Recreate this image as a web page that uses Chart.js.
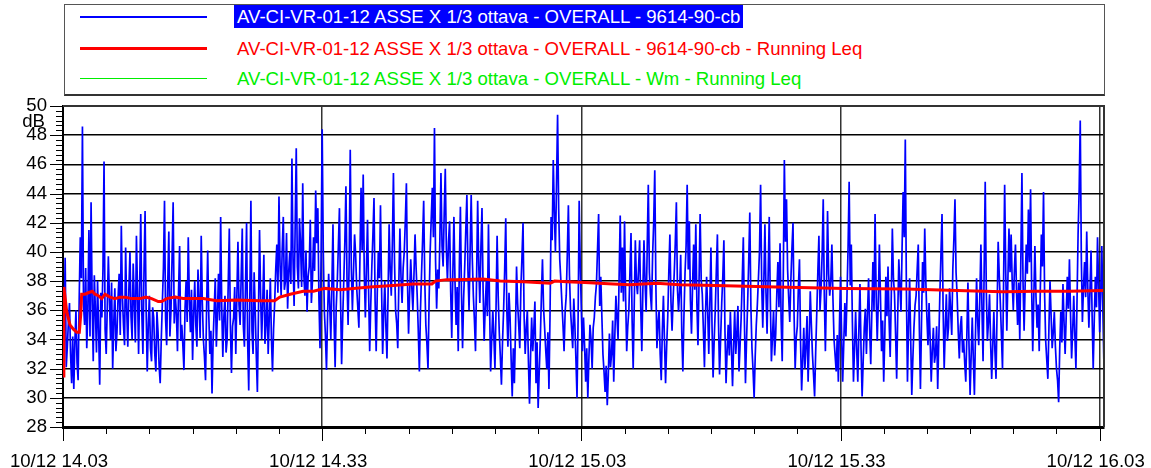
<!DOCTYPE html>
<html lang="it">
<head>
    <meta charset="UTF-8">
    <title>Running Leq - AV-CI-VR-01-12</title>
    <script src="https://cdn.jsdelivr.net/npm/chart.js"></script>
    <style>
        html, body {
            margin: 0;
            padding: 0;
            background: #fff;
        }
        .wrap {
            position: relative;
            width: 1151px;
            height: 468px;
            overflow: hidden;
            font-family: "Liberation Sans", Arial, sans-serif;
        }
        #leqChart {
            position: absolute;
            left: 0;
            top: 0;
        }
        .legend-box {
            position: absolute;
            left: 64px;
            top: 4px;
            width: 1041px;
            height: 92px;
            box-sizing: border-box;
            border: 1px solid #555;
            border-bottom: 2px solid #333;
            background: #fff;
        }
        .legend-line {
            position: absolute;
            left: 80px;
            width: 127px;
        }
        .legend-text {
            position: absolute;
            left: 234px;
            height: 23px;
            line-height: 23px;
            padding: 0 3px;
            font-size: 18.6px;
            white-space: nowrap;
        }
    </style>
</head>
<body>
<div class="wrap" id="wrap">
    <canvas id="leqChart" width="1151" height="468"></canvas>
    <div class="legend-box"></div>
</div>
<script>
    // Time axis: minutes after 14:03, one sample every 7.5 s
    var sampleStep = 0.125;
    var xTickLabels = ['10/12 14.03', '10/12 14.33', '10/12 15.03', '10/12 15.33', '10/12 16.03'];
    var yMin = 28;
    var yMax = 50;

    var seriesNames = [
        'AV-CI-VR-01-12 ASSE X 1/3 ottava - OVERALL - 9614-90-cb',
        'AV-CI-VR-01-12 ASSE X 1/3 ottava - OVERALL - 9614-90-cb - Running Leq',
        'AV-CI-VR-01-12 ASSE X 1/3 ottava - OVERALL - Wm - Running Leq'
    ];

    // OVERALL level (dB), one row = 5 minutes
    var overallLevels = [
        31.4, 34.8, 39.6, 32.1, 33.5, 35.2, 36.5, 33.0, 31.0, 34.2, 30.6, 33.8, 36.0, 32.4, 31.2, 36.8, 41.0, 38.2, 48.6, 36.4,
        35.0, 38.9, 33.4, 36.0, 41.5, 34.2, 43.4, 36.6, 32.5, 38.4, 36.0, 33.1, 38.0, 34.6, 30.9, 37.2, 35.5, 38.8, 46.2, 34.7,
        33.0, 36.2, 39.7, 36.8, 34.0, 37.9, 32.0, 35.1, 37.5, 33.2, 34.5, 36.9, 38.5, 34.3, 41.8, 37.0, 35.0, 33.6, 40.3, 36.1,
        33.5, 37.4, 40.0, 35.6, 34.0, 39.2, 36.5, 33.8, 41.1, 37.3, 33.0, 37.7, 42.6, 35.8, 33.0, 38.6, 42.8, 36.0, 31.8, 35.0,
        37.0, 33.4, 32.5, 36.2, 35.5, 33.0, 31.8, 35.9, 34.5, 32.2, 31.0, 34.0, 36.5, 38.9, 43.5, 35.4, 33.6, 37.8, 41.4, 34.2,
        36.0, 39.6, 43.4, 35.1, 37.0, 35.8, 33.2, 37.3, 40.4, 33.9, 35.0, 33.6, 31.9, 36.1, 38.0, 35.2, 41.0, 36.8, 34.5, 37.4,
        32.6, 35.7, 38.0, 35.0, 33.5, 38.8, 36.5, 34.1, 41.1, 36.6, 34.0, 32.8, 31.2, 36.3, 40.1, 35.7, 33.0, 34.6, 30.3, 33.9,
        36.0, 38.2, 33.5, 35.8, 38.5, 35.3, 42.4, 36.2, 32.8, 35.6, 37.0, 33.1, 34.0, 37.8, 41.6, 35.0, 31.7, 34.9, 35.5, 37.6,
        33.0, 36.9, 40.7, 36.4, 35.0, 38.3, 41.6, 34.9, 33.5, 37.6, 42.0, 33.8, 30.5, 36.7, 43.5, 34.6, 33.0, 38.6, 36.0, 32.9,
        30.4, 35.8, 41.5, 37.0, 34.0, 36.6, 39.8, 33.7, 35.0, 37.4, 33.0, 35.5, 38.2, 34.1, 31.8, 34.7, 36.5, 38.8, 40.5, 37.2,
        43.8, 39.1, 37.0, 40.2, 42.4, 37.4, 38.0, 41.3, 36.1, 38.6, 40.0, 37.8, 46.4, 39.5, 36.3, 41.8, 47.1, 39.0, 37.5, 42.3,
        40.5, 37.6, 44.7, 38.4, 37.0, 40.1, 35.9, 38.3, 39.0, 42.2, 36.5, 38.0, 41.0, 38.7, 44.2, 40.6, 43.0, 36.8, 33.4, 39.8,
        48.4, 40.2, 36.0, 34.3, 31.9, 35.6, 38.5, 36.4, 34.0, 37.7, 41.9, 35.3, 32.1, 36.2, 38.0, 40.4, 43.0, 36.9, 32.3, 35.4,
        38.0, 40.7, 44.5, 38.1, 35.0, 39.4, 47.0, 38.9, 36.0, 38.6, 41.2, 39.8, 37.5, 36.2, 34.8, 39.7, 44.4, 40.1, 45.3, 38.5,
        35.5, 39.0, 42.2, 37.3, 33.2, 36.4, 39.0, 41.2, 43.7, 36.7, 33.2, 37.1, 40.0, 38.2, 43.2, 37.6, 33.0, 35.7, 38.0, 34.9,
        32.7, 37.0, 41.9, 38.8, 37.0, 40.6, 45.4, 39.3, 36.0, 35.1, 33.4, 37.9, 41.6, 38.3, 36.5, 38.9, 40.0, 42.1, 44.7, 38.0,
        34.4, 37.2, 39.5, 37.6, 36.0, 38.4, 41.2, 38.9, 37.0, 34.6, 31.8, 35.9, 38.5, 40.8, 43.5, 38.1, 35.0, 33.7, 32.0, 36.6,
        40.0, 42.3, 44.4, 41.0, 48.5, 39.4, 36.1, 38.8, 37.5, 40.9, 45.4, 40.4, 39.0, 42.6, 45.7, 40.2, 38.0, 40.7, 42.1, 37.3,
        34.1, 38.5, 42.4, 38.0, 35.0, 37.6, 33.2, 38.9, 43.1, 37.2, 33.4, 36.8, 39.0, 41.5, 43.9, 38.7, 36.0, 40.1, 43.9, 39.6,
        37.0, 35.3, 33.2, 38.2, 43.5, 39.1, 36.5, 40.3, 43.0, 37.5, 33.9, 36.2, 38.0, 35.6, 41.9, 36.4, 31.8, 34.0, 36.0, 34.2,
        32.0, 36.1, 41.1, 37.0, 34.5, 32.8, 30.9, 33.8, 36.0, 38.7, 42.3, 36.0, 33.5, 37.2, 35.5, 32.6, 30.1, 33.4, 31.0, 34.6,
        39.0, 36.5, 35.0, 33.4, 37.5, 39.6, 42.0, 35.6, 33.0, 34.8, 36.0, 32.5, 29.6, 32.9, 35.5, 33.2, 34.7, 36.6, 31.0, 33.8,
        29.3, 31.8, 34.0, 36.9, 39.5, 36.2, 34.8, 33.3, 32.0, 34.5, 30.6, 35.7, 42.4, 40.8, 46.3, 42.7, 40.0, 44.6, 49.4, 43.0,
        39.5, 38.1, 36.5, 35.0, 33.2, 35.9, 37.0, 39.8, 43.2, 38.4, 36.0, 34.7, 33.4, 36.8, 35.0, 32.6, 30.0, 35.4, 43.5, 39.0,
        36.0, 33.2, 35.5, 33.6, 31.1, 33.4, 30.0, 32.7, 35.0, 34.0, 32.0, 34.8, 35.5, 36.9, 37.8, 40.2, 42.6, 36.3, 38.3, 35.6,
        33.0, 31.8, 30.4, 32.2, 29.5, 31.6, 34.4, 32.1, 33.0, 35.3, 31.1, 34.2, 37.0, 35.5, 34.0, 38.4, 42.5, 37.2, 40.3, 36.6,
        42.1, 36.9, 33.2, 34.9, 36.0, 38.6, 41.3, 35.4, 32.0, 36.4, 40.8, 38.0, 37.1, 38.9, 40.8, 36.2, 33.2, 37.5, 40.8, 37.9,
        35.9, 40.3, 44.6, 38.6, 37.1, 36.0, 39.8, 42.0, 45.6, 37.8, 33.4, 35.1, 36.0, 33.0, 31.2, 34.6, 37.0, 33.9, 31.0, 33.5,
        35.5, 38.6, 41.2, 36.6, 34.6, 36.8, 38.5, 40.6, 43.4, 37.5, 35.9, 37.3, 39.8, 34.5, 31.8, 35.6, 38.5, 40.4, 44.6, 38.8,
        42.1, 36.7, 34.4, 37.7, 40.5, 37.4, 41.9, 36.5, 33.6, 38.0, 42.6, 38.1, 37.1, 34.7, 32.1, 35.8, 38.3, 36.0, 33.0, 36.4,
        40.3, 35.0, 31.4, 33.9, 36.0, 38.7, 41.2, 35.2, 31.6, 34.1, 36.5, 38.3, 40.8, 34.6, 31.0, 33.2, 35.0, 32.9, 35.9, 33.4,
        30.8, 33.5, 36.0, 33.0, 34.4, 36.3, 31.8, 33.6, 35.5, 38.1, 41.0, 35.3, 31.0, 34.0, 36.5, 39.4, 42.7, 36.3, 33.4, 31.9,
        30.0, 32.8, 35.0, 36.4, 38.2, 40.1, 44.6, 37.9, 34.8, 38.0, 41.9, 37.2, 34.4, 38.5, 42.4, 36.7, 32.5, 34.2, 36.0, 32.9,
        34.4, 37.1, 39.3, 36.2, 40.6, 35.4, 32.5, 38.3, 46.3, 40.7, 43.6, 38.8, 36.9, 35.2, 38.0, 40.2, 42.0, 35.7, 32.0, 34.1,
        34.9, 37.6, 39.5, 33.8, 30.5, 32.6, 34.8, 32.0, 33.5, 35.6, 31.1, 34.0, 37.3, 35.0, 33.0, 31.6, 30.1, 33.1, 35.8, 38.6,
        41.1, 36.0, 37.5, 39.9, 43.6, 37.0, 33.2, 37.4, 42.8, 38.5, 37.0, 38.0, 40.5, 36.8, 34.0, 32.9, 31.8, 34.3, 31.1, 34.9,
        38.3, 34.4, 31.1, 33.7, 36.5, 34.2, 37.0, 40.3, 44.8, 37.7, 40.5, 35.2, 31.1, 33.4, 35.9, 33.3, 31.1, 34.6, 37.8, 33.4,
        30.1, 32.5, 34.8, 36.1, 33.0, 35.8, 38.2, 34.7, 32.3, 35.9, 39.3, 36.0, 42.6, 37.1, 33.9, 36.6, 40.5, 36.9, 33.2, 35.3,
        31.1, 34.2, 38.3, 35.6, 39.0, 35.3, 32.8, 36.9, 41.6, 38.2, 37.1, 34.4, 31.3, 35.7, 39.5, 37.6, 35.9, 40.2, 44.1, 41.0,
        47.7, 37.5, 31.1, 34.9, 38.2, 34.0, 30.2, 32.7, 34.8, 36.3, 37.0, 38.8, 40.5, 34.8, 30.6, 35.1, 39.3, 37.2, 41.6, 38.0,
        35.5, 33.6, 36.5, 34.0, 31.1, 33.3, 34.8, 32.4, 33.0, 34.9, 30.6, 33.9, 37.1, 39.8, 42.6, 36.2, 32.0, 34.7, 37.1, 33.9,
        34.8, 37.5, 36.0, 34.3, 38.8, 40.9, 43.6, 38.6, 37.0, 34.6, 32.7, 34.9, 35.6, 33.1, 34.0, 32.4, 31.1, 34.3, 37.9, 33.6,
        30.2, 32.9, 35.5, 32.6, 30.2, 34.4, 38.2, 35.3, 33.6, 36.9, 40.5, 36.1, 32.5, 38.6, 44.8, 37.4, 33.9, 35.2, 37.1, 33.8,
        31.3, 33.6, 35.9, 33.2, 31.3, 36.0, 40.7, 38.4, 36.5, 34.3, 32.0, 37.8, 44.6, 38.7, 34.6, 38.1, 41.6, 38.6, 41.2, 37.9,
        36.0, 38.7, 40.5, 37.3, 35.0, 37.9, 34.0, 39.5, 45.4, 38.0, 34.6, 37.8, 40.5, 38.5, 42.9, 39.3, 44.3, 37.5, 33.2, 36.9,
        40.4, 37.0, 34.8, 36.4, 33.2, 37.3, 41.2, 39.0, 44.1, 37.1, 33.9, 32.6, 31.3, 34.8, 38.0, 35.7, 33.4, 34.5, 35.9, 33.5,
        32.0, 31.2, 29.7, 33.4, 35.9, 33.8, 37.8, 35.2, 33.0, 35.6, 38.3, 36.1, 39.5, 35.8, 32.7, 34.6, 37.0, 34.3, 32.0, 36.6,
        41.2, 44.3, 49.0, 39.6, 35.2, 37.6, 39.3, 36.9, 41.4, 37.5, 34.8, 37.3, 40.1, 35.6, 32.0, 35.4, 38.3, 36.2, 41.0, 37.7,
        34.5, 37.3, 40.4, 35.8, 32.0
    ];

    // Running Leq (minutes after 14:03, dB)
    var leqTimes = [
        0, 0.1, 0.43, 0.81, 1.2, 1.58, 1.89, 2.05, 2.16, 2.55, 2.93, 3.4, 3.7, 4.09, 4.48, 4.86, 5.44, 6.02, 6.6, 7.18,
        7.95, 8.91, 9.6, 10.26, 11.03, 11.42, 12.0, 12.96, 13.92, 16.24, 17.78, 20.1, 22.8, 24.5, 25.1, 26.3, 27.8, 29.0, 30.3, 32.1,
        33.6, 35.5, 38.2, 40.5, 42.7, 43.1, 44.4, 45.4, 48.6, 50.6, 53.3, 56.4, 56.9, 58.3, 60.4, 63.7, 65.6, 68.7, 71.4, 75.5,
        82.6, 90.5, 97.6, 105.5, 108.8, 112.7, 116.5, 120.5
    ];
    var leqLevels = [
        31.5, 37.6, 35.9, 35.0, 34.7, 34.5, 34.5, 35.7, 37.1, 37.1, 37.2, 37.3, 37.1, 37.0, 36.8, 37.1, 36.9, 36.8, 36.9, 36.9,
        36.8, 36.8, 36.9, 36.8, 36.6, 36.6, 36.8, 36.9, 36.8, 36.8, 36.65, 36.7, 36.65, 36.65, 36.9, 37.1, 37.3, 37.3, 37.5, 37.4,
        37.5, 37.6, 37.7, 37.8, 37.8, 38.0, 38.1, 38.1, 38.15, 38.0, 37.95, 37.85, 38.0, 37.95, 37.9, 37.8, 37.75, 37.85, 37.75, 37.7,
        37.6, 37.5, 37.45, 37.32, 37.27, 37.3, 37.3, 37.35
    ];
    var wmLeqLevels = [];

    var overallPoints = overallLevels.map(function (v, i) {
        return { x: i * sampleStep, y: v };
    });
    var leqPoints = leqLevels.map(function (v, i) {
        return { x: leqTimes[i], y: v };
    });

    var fontFamily = '"Liberation Sans", Arial, sans-serif';
    Chart.defaults.font.family = fontFamily;
    Chart.defaults.font.size = 18.6;
    Chart.defaults.color = '#000';

    function isMajor(v) {
        return Math.abs(v % 30) < 1e-6;
    }

    // tick marks, top/right frame and the dB unit
    var axisDecor = {
        id: 'axisDecor',
        afterDraw: function (chart) {
            var ctx = chart.ctx;
            var a = chart.chartArea;
            var x = chart.scales.x;
            var y = chart.scales.y;
            ctx.save();
            ctx.strokeStyle = '#000';
            ctx.lineWidth = 1;
            for (var k = 0; k <= (yMax - yMin) * 3; k++) {
                var py = Math.round(y.getPixelForValue(yMin + k / 3)) + 0.5;
                var ylen = k % 6 === 0 ? 13 : 7;
                ctx.beginPath();
                ctx.moveTo(a.left - ylen, py);
                ctx.lineTo(a.left, py);
                ctx.stroke();
            }
            for (var m = 0; m <= 120; m += 5) {
                var px = Math.round(x.getPixelForValue(m)) + 0.5;
                var xlen = isMajor(m) ? 14 : 7;
                ctx.beginPath();
                ctx.moveTo(px, a.bottom);
                ctx.lineTo(px, a.bottom + xlen);
                ctx.stroke();
            }
            ctx.strokeStyle = '#333';
            ctx.lineWidth = 2;
            ctx.beginPath();
            ctx.moveTo(a.left, a.top);
            ctx.lineTo(a.right, a.top);
            ctx.lineTo(a.right, a.bottom);
            ctx.stroke();

            ctx.fillStyle = '#000';
            ctx.font = '18.6px ' + fontFamily;
            ctx.textAlign = 'right';
            ctx.textBaseline = 'middle';
            ctx.fillText('dB', a.left - 18, y.getPixelForValue(48.9));
            ctx.restore();
        }
    };

    var ctx = document.getElementById('leqChart').getContext('2d');
    var leqChart = new Chart(ctx, {
        type: 'line',
        data: {
            datasets: [{
                label: seriesNames[0],
                data: overallPoints,
                borderColor: '#0000ff',
                borderWidth: 1.7,
                pointRadius: 0,
                tension: 0,
                order: 2
            }, {
                label: seriesNames[1],
                data: leqPoints,
                borderColor: '#ff0000',
                borderWidth: 3,
                pointRadius: 0,
                tension: 0,
                order: 1
            }, {
                label: seriesNames[2],
                data: wmLeqLevels,
                borderColor: '#00ee00',
                borderWidth: 1.5,
                pointRadius: 0,
                order: 0
            }]
        },
        options: {
            responsive: false,
            animation: false,
            devicePixelRatio: 1,
            layout: {
                padding: { top: 106, right: 47, left: 0, bottom: 0 }
            },
            plugins: {
                legend: { display: false },
                tooltip: { enabled: false }
            },
            scales: {
                x: {
                    type: 'linear',
                    min: 0,
                    max: 120.5,
                    afterFit: function (scale) {
                        scale.height = 41;
                        scale.paddingLeft = 0;
                        scale.paddingRight = 0;
                    },
                    ticks: {
                        stepSize: 5,
                        includeBounds: false,
                        autoSkip: false,
                        maxRotation: 0,
                        padding: 24,
                        labelOffset: -4,
                        callback: function (v) {
                            return isMajor(v) ? xTickLabels[Math.round(v / 30)] : '';
                        }
                    },
                    grid: {
                        drawTicks: false,
                        lineWidth: 1.5,
                        color: function (c) {
                            if (!c.tick) return 'transparent';
                            var v = c.tick.value;
                            return (v > 0 && isMajor(v)) ? '#333' : 'transparent';
                        }
                    },
                    border: { color: '#000', width: 3 }
                },
                y: {
                    type: 'linear',
                    min: yMin,
                    max: yMax,
                    afterFit: function (scale) {
                        scale.width = 63;
                        scale.paddingTop = 0;
                        scale.paddingBottom = 0;
                    },
                    ticks: {
                        stepSize: 2,
                        padding: 16
                    },
                    grid: {
                        drawTicks: false,
                        lineWidth: 1.5,
                        color: '#000'
                    },
                    border: { color: '#000', width: 2 }
                }
            }
        },
        plugins: [axisDecor]
    });

    // legend rows built from the datasets
    var wrap = document.getElementById('wrap');
    var rowTops = [5, 36.5, 66.5];
    leqChart.data.datasets.forEach(function (ds, i) {
        var line = document.createElement('div');
        line.className = 'legend-line';
        var centre = rowTops[i] + 12;
        line.style.top = (centre - ds.borderWidth / 2) + 'px';
        line.style.height = ds.borderWidth + 'px';
        line.style.background = ds.borderColor;
        wrap.appendChild(line);

        var text = document.createElement('div');
        text.className = 'legend-text';
        text.style.top = rowTops[i] + 'px';
        text.textContent = ds.label;
        if (i === 0) {
            text.style.background = '#0000ff';
            text.style.color = '#fff';
        } else {
            text.style.color = ds.borderColor;
        }
        wrap.appendChild(text);
    });
</script>
</body>
</html>
